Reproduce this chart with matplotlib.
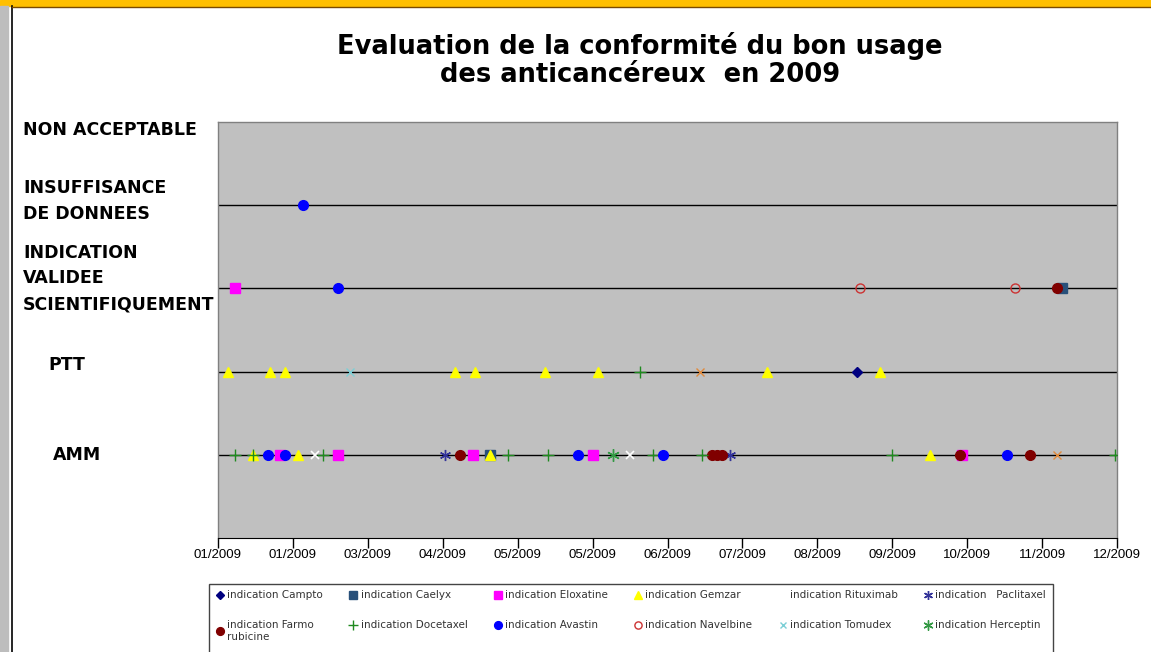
import matplotlib
matplotlib.use('Agg')
import matplotlib.pyplot as plt
import matplotlib.dates as mdates
import matplotlib.transforms as mtransforms
from matplotlib.patches import Rectangle
from matplotlib.lines import Line2D
import pandas as pd

plt.rcParams['font.family'] = ['DejaVu Sans']

# niveaux de conformite (axe vertical)
levels = ['AMM', 'PTT', 'INDICATION\nVALIDEE\nSCIENTIFIQUEMENT',
          'INSUFFISANCE\nDE DONNEES', 'NON ACCEPTABLE']
AMM, PTT, VAL, INS = 1, 2, 3, 4

# (date, niveau) pour chaque molecule
campto = [('2009-09-14', PTT)]
caelyx = [('2009-12-05', VAL), ('2009-04-20', AMM)]
eloxatine = [('2009-01-08', VAL), ('2009-01-26', AMM), ('2009-02-18', AMM),
             ('2009-04-13', AMM), ('2009-05-31', AMM), ('2009-10-26', AMM)]
gemzar = [('2009-01-05', PTT), ('2009-01-22', PTT), ('2009-01-28', PTT),
          ('2009-04-06', PTT), ('2009-04-14', PTT), ('2009-05-12', PTT),
          ('2009-06-02', PTT), ('2009-08-09', PTT), ('2009-09-23', PTT),
          ('2009-01-15', AMM), ('2009-02-02', AMM), ('2009-04-20', AMM),
          ('2009-10-13', AMM)]
rituximab = [('2009-02-09', AMM), ('2009-06-15', AMM)]
paclitaxel = [('2009-04-02', AMM), ('2009-07-25', AMM)]
farmorubicine = [('2009-12-03', VAL), ('2009-04-08', AMM), ('2009-07-18', AMM),
                 ('2009-07-20', AMM), ('2009-07-22', AMM), ('2009-10-25', AMM),
                 ('2009-11-22', AMM)]
docetaxel = [('2009-06-19', PTT), ('2009-01-08', AMM), ('2009-01-15', AMM),
             ('2009-02-12', AMM), ('2009-04-27', AMM), ('2009-05-13', AMM),
             ('2009-06-24', AMM), ('2009-07-14', AMM), ('2009-09-28', AMM),
             ('2009-12-26', AMM)]
avastin = [('2009-02-04', INS), ('2009-02-18', VAL), ('2009-01-21', AMM),
           ('2009-01-28', AMM), ('2009-05-25', AMM), ('2009-06-28', AMM),
           ('2009-11-13', AMM)]
navelbine = [('2009-09-15', VAL), ('2009-11-16', VAL)]
tomudex = [('2009-02-23', PTT)]
herceptin = [('2009-06-08', AMM)]
autres = [('2009-07-13', PTT), ('2009-12-03', AMM)]

series = [
    ('indication Campto', campto, dict(marker='D', color='#000080', ms=5.5)),
    ('indication Caelyx', caelyx, dict(marker='s', color='#28507a', ms=6.5)),
    ('indication Eloxatine', eloxatine, dict(marker='s', color='#ff00ff', ms=6.5)),
    ('indication Gemzar', gemzar, dict(marker='^', color='#ffff00', ms=7.5)),
    ('indication Rituximab', rituximab, dict(marker='x', color='white', ms=6, mew=1.2)),
    ('indication   Paclitaxel', paclitaxel, dict(marker=(6, 2, 0), color='#333399', ms=8, mew=1.0)),
    ('indication Farmo\nrubicine', farmorubicine, dict(marker='o', color='#800000', ms=7)),
    ('indication Docetaxel', docetaxel, dict(marker='+', color='#1f8a1f', ms=9, mew=1.0)),
    ('indication Avastin', avastin, dict(marker='o', color='#0000ff', ms=7)),
    ('indication Navelbine', navelbine, dict(marker='o', color='#cc3333', mfc='none', ms=6.5, mew=1.0)),
    ('indication Tomudex', tomudex, dict(marker='x', color='#7ccfd6', ms=6, mew=1.0)),
    ('indication Herceptin', herceptin, dict(marker=(6, 2, 0), color='#339944', ms=9, mew=1.0)),
    ('_autres', autres, dict(marker='x', color='#e08a3c', ms=6, mew=1.0)),
]

W, H = 1151, 652
fig = plt.figure(figsize=(W / 100, H / 100), dpi=100)
fig.patch.set_facecolor('white')

# cadre de la fenetre
fig.add_artist(Rectangle((0, 1 - 6 / H), 1, 6 / H, transform=fig.transFigure,
                         color='#ffbf00', zorder=0))
fig.add_artist(Rectangle((0, 0), 8 / W, 1 - 6 / H, transform=fig.transFigure,
                         color='#bdbdbd', zorder=0))
fig.add_artist(Line2D([12 / W, 12 / W], [0, 1 - 6 / H], transform=fig.transFigure,
                      color='black', lw=1.2))
fig.add_artist(Line2D([12 / W, 1], [1 - 6.5 / H, 1 - 6.5 / H], transform=fig.transFigure,
                      color='#7a4a00', lw=1))

ax = fig.add_axes([218 / W, 1 - 538 / H, 899 / W, 416 / H])
ax.set_facecolor('#c0c0c0')

for y in range(1, 5):
    ax.axhline(y, color='black', lw=1, zorder=1)

handles = []
for label, pts, style in series:
    d = pd.to_datetime([p[0] for p in pts])
    v = [p[1] for p in pts]
    h, = ax.plot(d, v, linestyle='none', label=label, zorder=3, **style)
    handles.append(h)

start = pd.Timestamp('2009-01-01')
ticks = pd.date_range(start, periods=13, freq='30D')
ax.set_xlim(start, pd.Timestamp('2009-12-27'))
ax.set_ylim(0, 5)
ax.set_xticks(ticks)
ax.xaxis.set_major_formatter(mdates.DateFormatter('%m/%Y'))
ax.tick_params(axis='x', direction='out', length=7, width=1, pad=1,
               labelsize=8.5, colors='black')
for t in ax.get_xticklabels():
    t.set_family(['Liberation Sans', 'DejaVu Sans'])
    t.set_fontsize(9.5)
ax.set_yticks([])
for s in ['left', 'right', 'top']:
    ax.spines[s].set_color('#808080')
    ax.spines[s].set_linewidth(1)
ax.spines['bottom'].set_color('black')

# libelles des niveaux
trans = mtransforms.blended_transform_factory(fig.transFigure, ax.transData)
for i, name in enumerate(levels):
    y = i + 1
    x = 23 / W if len(name) > 3 else (48 / W if name == 'PTT' else 53 / W)
    dy = {5: -0.1, 4: 0.05, 3: 0.12, 2: 0.08}.get(y, 0)
    fig.text(x, y + dy, name, fontsize=12.5, fontweight='bold', ha='left',
             va='center', linespacing=1.55, transform=trans)

fig.text(640 / W, 1 - 60 / H,
         'Evaluation de la conformité du bon usage\ndes anticancéreux  en 2009',
         fontsize=18.5, fontweight='bold', ha='center', va='center', linespacing=1.15)

# legende sur deux lignes, remplie ligne par ligne
order = [0, 6, 1, 7, 2, 8, 3, 9, 4, 10, 5, 11]
leg = fig.legend([handles[i] for i in order], [series[i][0] for i in order],
                 loc='upper left', ncols=6, mode='expand',
                 bbox_to_anchor=(216 / W, 1 - 597 / H, 830 / W, 0.01),
                 frameon=False, fontsize=7.5, handlelength=0.8, handletextpad=0.3,
                 borderaxespad=0, borderpad=0, labelspacing=1.9, markerscale=0.8)
for t in leg.get_texts():
    t.set_color('#333333')
fig.add_artist(Rectangle((209 / W, -0.02), 844 / W, (652 - 584) / H + 0.02,
                         transform=fig.transFigure, fill=False,
                         edgecolor='#444444', lw=1))

fig.savefig('out.png', dpi=100)
